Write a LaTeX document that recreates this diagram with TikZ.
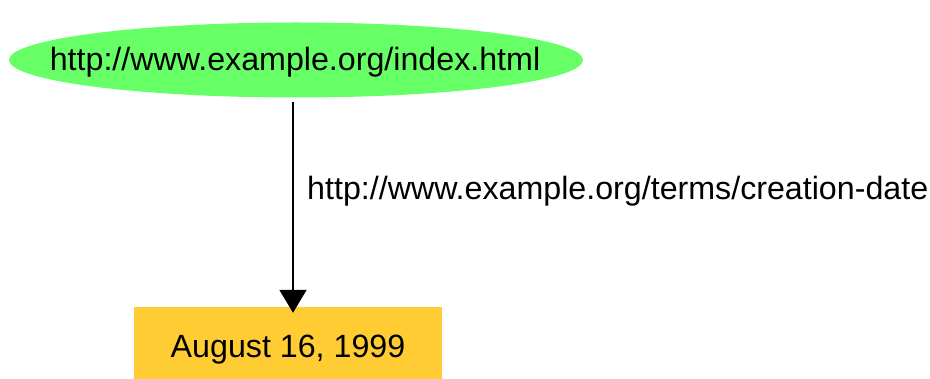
\documentclass[tikz,border=0pt]{standalone}
\usepackage{fontspec}
\setmainfont{Liberation Sans}
\usetikzlibrary{shapes.geometric,arrows.meta}
\definecolor{resgreen}{HTML}{66FF66}
\definecolor{litorange}{HTML}{FFCC33}
\tikzset{
  txt/.style={font=\fontsize{32.2}{38}\selectfont, text=black},
  resource/.style={txt, rectangle, inner sep=0pt, minimum height=75pt},
  literal/.style={txt, rectangle, fill=litorange, inner sep=0pt, minimum width=308pt, minimum height=86pt},
  prop/.style={-{Triangle[length=23pt,width=27pt]}, line width=2pt, black}
}
\begin{document}
\begin{tikzpicture}[x=1pt,y=-1pt]
\useasboundingbox (0,0) rectangle (930,379);
\clip (0,0) rectangle (930,379);
\fill[resgreen] (296,60) ellipse [x radius=287pt, y radius=37.5pt];
\node[resource] (subj) at (295,62) {http://www.example.org/index.html};
\node[literal] (obj) at (288,350) {August 16, 1999};
\node[txt, anchor=west, inner sep=0pt] (lbl) at (307,191) {http://www.example.org/terms/creation-date};
\draw[prop] ([xshift=-2pt,yshift=-2pt]subj.south) -- ([xshift=5pt,yshift=-6pt]obj.north);
\end{tikzpicture}
\end{document}
